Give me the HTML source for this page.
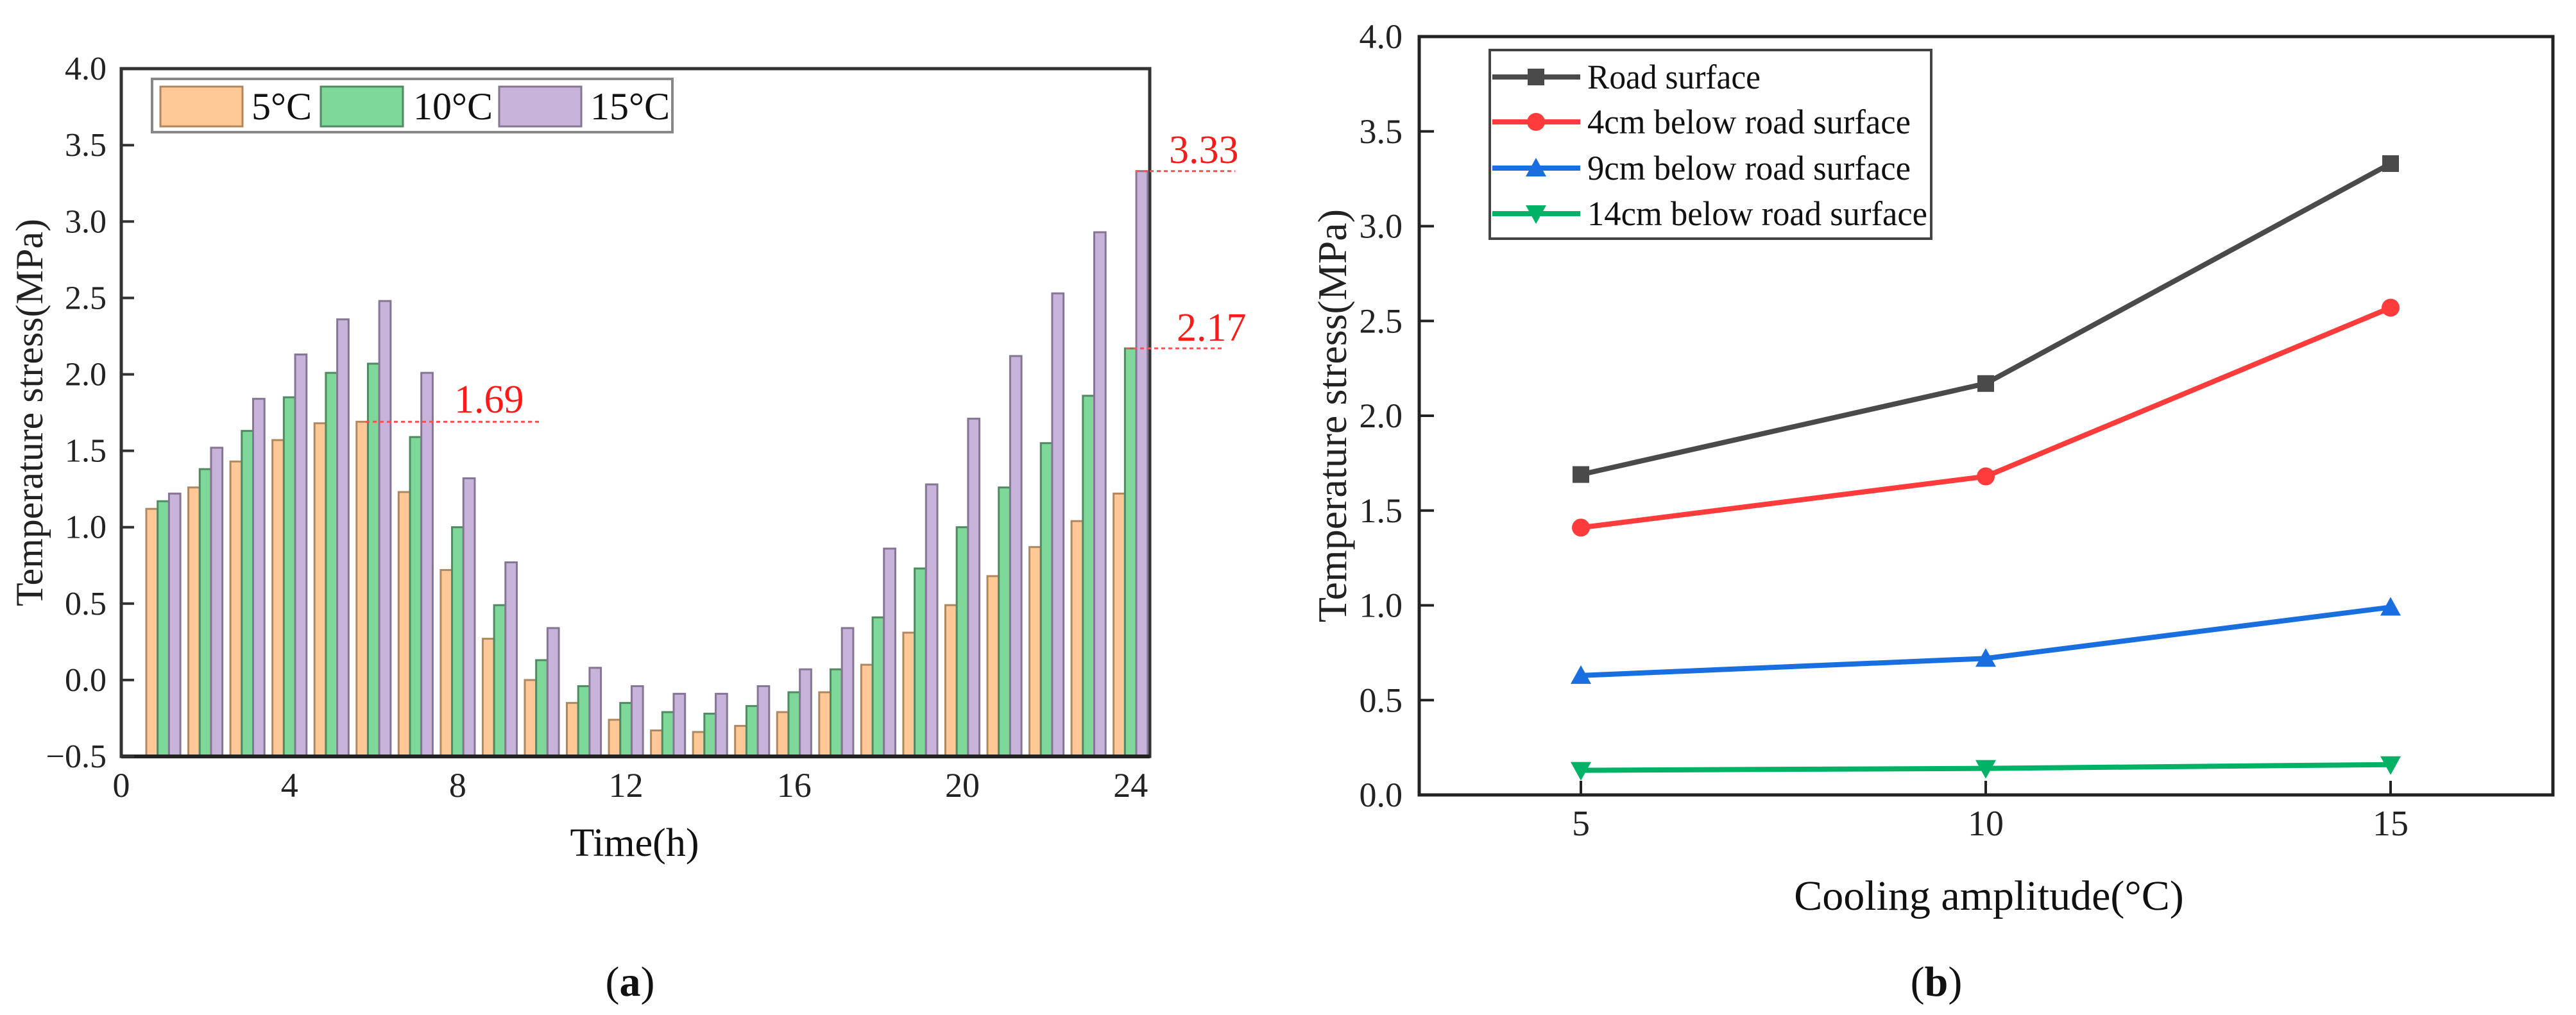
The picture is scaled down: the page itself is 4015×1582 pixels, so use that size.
<!DOCTYPE html>
<html><head><meta charset="utf-8"><style>
html,body{margin:0;padding:0;background:#fff;}
svg{display:block;font-family:"Liberation Serif",serif;}
</style></head><body>
<svg id="fig" width="4015" height="1582" viewBox="0 0 4015 1582" xmlns="http://www.w3.org/2000/svg">
<g id="chartA"></g>
<g id="chartB"></g>
</svg>
<script>
const hours = [1,2,3,4,5,6,7,8,9,10,11,12,13,14,15,16,17,18,19,20,21,22,23,24];
const s5 = [1.12,1.26,1.43,1.57,1.68,1.69,1.23,0.72,0.27,0.00,-0.15,-0.26,-0.33,-0.34,-0.30,-0.21,-0.08,0.10,0.31,0.49,0.68,0.87,1.04,1.22];
const s10 = [1.17,1.38,1.63,1.85,2.01,2.07,1.59,1.00,0.49,0.13,-0.04,-0.15,-0.21,-0.22,-0.17,-0.08,0.07,0.41,0.73,1.00,1.26,1.55,1.86,2.17];
const s15 = [1.22,1.52,1.84,2.13,2.36,2.48,2.01,1.32,0.77,0.34,0.08,-0.04,-0.09,-0.09,-0.04,0.07,0.34,0.86,1.28,1.71,2.12,2.53,2.93,3.33];
const barLabels = ["5°C","10°C","15°C"];
const aYTicks = [-0.5,0,0.5,1,1.5,2,2.5,3,3.5,4];
const aYTickLabels = ["−0.5","0.0","0.5","1.0","1.5","2.0","2.5","3.0","3.5","4.0"];
const aXTicks = [0,4,8,12,16,20,24];

const bX = [5,10,15];
const road = [1.69,2.17,3.33];
const cm4 = [1.41,1.68,2.57];
const cm9 = [0.63,0.72,0.99];
const cm14 = [0.13,0.14,0.16];
const bSeriesNames = ["Road surface","4cm below road surface","9cm below road surface","14cm below road surface"];
const bYTicks = [0,0.5,1,1.5,2,2.5,3,3.5,4];
const bYTickLabels = ["0.0","0.5","1.0","1.5","2.0","2.5","3.0","3.5","4.0"];

const NS="http://www.w3.org/2000/svg";
function mk(parent,tag,attrs,text){const e=document.createElementNS(NS,tag);for(const k in attrs)e.setAttribute(k,attrs[k]);if(text!==undefined)e.textContent=text;parent.appendChild(e);return e;}

// ---------- Chart A ----------
const A=document.getElementById('chartA');
const aL=189,aR=1792,aT=107,aB=1179;
const ax=h=>aL+h*65.55;
const ay=v=>aB-(v+0.5)*238.2;
mk(A,'rect',{x:aL,y:aT,width:aR-aL,height:aB-aT,fill:'#fff',stroke:'#333','stroke-width':5});
const seriesA=[s5,s10,s15];
const fillsA=['#ffc896','#7dd89a','#c8b4da'];
const strokesA=['#b08860','#4f8a62','#857694'];
const offs=[-0.405,-0.135,0.135];
seriesA.forEach((ser,si)=>{
  hours.forEach((h,i)=>{
    const v=ser[i];
    const x0=ax(h+offs[si]),x1=ax(h+offs[si]+0.27);
    const y0=ay(Math.max(v,-0.5)),yb=ay(-0.5);
    const r=mk(A,'rect',{x:x0,y:Math.min(y0,yb),width:x1-x0,height:Math.abs(yb-y0),fill:fillsA[si],stroke:strokesA[si],'stroke-width':3});
    
    
  });
});
mk(A,'line',{x1:aL,y1:aB,x2:aR,y2:aB,stroke:'#222','stroke-width':6});
aYTicks.forEach((v,i)=>{
  mk(A,'line',{x1:aL,y1:ay(v),x2:aL+20,y2:ay(v),stroke:'#333','stroke-width':4});
  const t=mk(A,'text',{x:166,y:ay(v)+17,'font-size':52,'text-anchor':'end',fill:'#222'},aYTickLabels[i]);
  
  
});
aXTicks.forEach(h=>{
  const t=mk(A,'text',{x:ax(h),y:1242,'font-size':54,'text-anchor':'middle',fill:'#222'},String(h));
  
  
});
// legend
const legA=mk(A,'g',{});
mk(legA,'rect',{x:237,y:123,width:811,height:83,fill:'#fff',stroke:'#888','stroke-width':4});
const legX=[250,500,778],legTX=[392,644,920];
barLabels.forEach((lb,i)=>{
  const g=mk(legA,'g',{});
  
  
  mk(g,'rect',{x:legX[i],y:135,width:128,height:62,fill:fillsA[i],stroke:strokesA[i],'stroke-width':3});
  mk(g,'text',{x:legTX[i],y:186,'font-size':60,fill:'#111'},lb);
});
// annotations
function annot(x1,x2,v,tx,ty,label){
  const g=mk(A,'g',{});
  
  
  mk(g,'line',{x1:x1,y1:ay(v),x2:x2,y2:ay(v),stroke:'#ff5050','stroke-width':3,'stroke-dasharray':'6,5'});
  mk(g,'text',{x:tx,y:ty,'font-size':62,fill:'#ff1a1a'},label);
}
annot(570,845,s5[5],708,643,'1.69');
annot(1755,1905,s10[23],1834,531,'2.17');
annot(1770,1925,s15[23],1822,254,'3.33');
mk(A,'text',{x:989,y:1334,'font-size':62,'text-anchor':'middle',fill:'#111',},'Time(h)');
mk(A,'text',{x:0,y:0,'font-size':60,'text-anchor':'middle',fill:'#222',transform:'translate(66,643) rotate(-90)',},'Temperature stress(MPa)');
const pa=mk(A,'text',{x:982,y:1552,'font-size':66,'text-anchor':'middle',fill:'#111',});
pa.innerHTML='(<tspan font-weight="bold">a</tspan>)';

// ---------- Chart B ----------
const B=document.getElementById('chartB');
const bL=2212,bR=3979,bT=57,bB=1239;
const bx=c=>2464+(c-5)*126.2;
const by=v=>bB-v*(bB-bT)/4;
mk(B,'rect',{x:bL,y:bT,width:bR-bL,height:bB-bT,fill:'#fff',stroke:'#222','stroke-width':5});
bYTicks.forEach((v,i)=>{
  if(v>0&&v<4) mk(B,'line',{x1:bL,y1:by(v),x2:bL+23,y2:by(v),stroke:'#222','stroke-width':4});
  const t=mk(B,'text',{x:2186,y:by(v)+18,'font-size':54,'text-anchor':'end',fill:'#222'},bYTickLabels[i]);
  
  
});
bX.forEach(c=>{
  mk(B,'line',{x1:bx(c),y1:bB,x2:bx(c),y2:bB-22,stroke:'#222','stroke-width':4});
  const t=mk(B,'text',{x:bx(c),y:1302,'font-size':56,'text-anchor':'middle',fill:'#222'},String(c));
  
  
});
const seriesB=[road,cm4,cm9,cm14];
const colB=['#4a4a4a','#ff3b3b','#1a6fe0','#00b266'];
const markB=['square','circle','tri-up','tri-down'];
function marker(g,type,x,y,c,s){
  if(type==='square') return mk(g,'rect',{x:x-s,y:y-s,width:2*s,height:2*s,fill:c});
  if(type==='circle') return mk(g,'circle',{cx:x,cy:y,r:s+1,fill:c});
  if(type==='tri-up') return mk(g,'polygon',{points:`${x},${y-s-3} ${x-s-3},${y+s} ${x+s+3},${y+s}`,fill:c});
  return mk(g,'polygon',{points:`${x},${y+s+3} ${x-s-3},${y-s} ${x+s+3},${y-s}`,fill:c});
}
seriesB.forEach((ser,si)=>{
  const g=mk(B,'g',{});
  
  
  const pts=bX.map((c,i)=>bx(c)+','+by(ser[i])).join(' ');
  mk(g,'polyline',{points:pts,fill:'none',stroke:colB[si],'stroke-width':8});
  bX.forEach((c,i)=>{
    const m=marker(g,markB[si],bx(c),by(ser[i]),colB[si],13);
    
    
  });
});
const legB=mk(B,'g',{});
mk(legB,'rect',{x:2322,y:78,width:688,height:294,fill:'#fff',stroke:'#444','stroke-width':4});
const legY=[120,190,262,333];
bSeriesNames.forEach((nm,i)=>{
  const g=mk(legB,'g',{});
  
  
  mk(g,'line',{x1:2326,y1:legY[i],x2:2463,y2:legY[i],stroke:colB[i],'stroke-width':8});
  marker(g,markB[i],2394,legY[i],colB[i],13);
  mk(g,'text',{x:2474,y:legY[i]+18,'font-size':54,fill:'#111',textLength:i===0?270:(i===3?530:504),lengthAdjust:'spacingAndGlyphs'},nm);
});
mk(B,'text',{x:3100,y:1418,'font-size':66,'text-anchor':'middle',fill:'#111',},'Cooling amplitude(°C)');
mk(B,'text',{x:0,y:0,'font-size':64,'text-anchor':'middle',fill:'#222',transform:'translate(2098,648) rotate(-90)',},'Temperature stress(MPa)');
const pb=mk(B,'text',{x:3018,y:1552,'font-size':66,'text-anchor':'middle',fill:'#111',});
pb.innerHTML='(<tspan font-weight="bold">b</tspan>)';
</script>
</body></html>
